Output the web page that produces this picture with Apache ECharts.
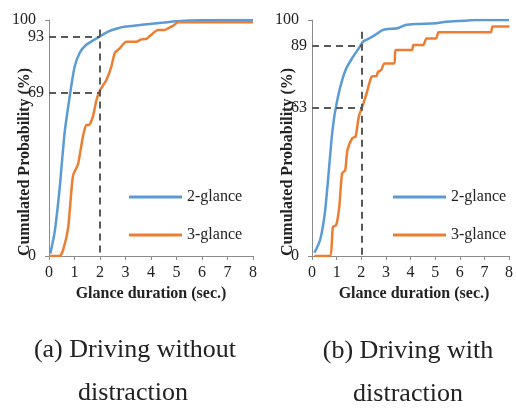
<!DOCTYPE html>
<html><head><meta charset="utf-8">
<script src="https://cdn.jsdelivr.net/npm/echarts@6/dist/echarts.min.js"></script>
<style>html,body{margin:0;padding:0;background:#fff}#c{width:516px;height:408px}</style>
</head><body><div id="c"></div>
<script>
// ---- data ----
const xTicks = [0,1,2,3,4,5,6,7,8];
const yLabelsA = [0, 69, 93, 100];
const yLabelsB = [0, 63, 89, 100];
const seriesNames = ['2-glance', '3-glance'];
// (a) driving without distraction
const a2glance = [[0.05,1],[0.22,10],[0.42,29],[0.61,52],[0.81,67.5],[1.0,80],[1.2,86],[1.46,89.5],[1.99,93],[2.3,95],[2.64,96.3],[3.0,97.2],[3.5,97.8],[3.95,98.3],[4.5,98.9],[5.0,99.5],[6,99.9],[8,100]];
const a3glance = [[0,0],[0.42,0],[0.55,2.5],[0.75,12],[0.94,34],[1.14,39],[1.33,50.6],[1.46,55.5],[1.57,55.5],[1.72,59],[1.86,66],[1.99,70],[2.25,74.6],[2.44,80],[2.58,86],[2.77,88],[3.03,90.8],[3.42,90.8],[3.62,91.8],[3.82,92],[4.08,94.4],[4.27,95.8],[4.54,95.8],[4.67,96.5],[4.86,97.5],[5.06,99],[8,99]];
// (b) driving with distraction
const b2glance = [[0.1,1.4],[0.33,6.8],[0.52,18],[0.65,32],[0.79,49],[0.92,60],[1.11,70],[1.37,79],[1.64,84],[1.9,88],[2.09,91],[2.29,92],[2.55,93.6],[2.88,95.8],[3.08,96.2],[3.47,96.5],[3.8,97.9],[4.25,98.3],[5.04,98.6],[5.43,99.3],[6.2,99.7],[6.6,100],[8,100]];
const b3glance = [[0.1,0],[0.72,0],[0.85,12.4],[0.98,13],[1.11,21],[1.22,35],[1.35,36.4],[1.44,45],[1.64,50],[1.77,50.6],[1.9,59],[2.09,64.7],[2.22,69],[2.42,76],[2.62,76.3],[2.68,78],[2.81,78.8],[2.94,81.6],[3.34,81.6],[3.4,87.3],[4.06,87.3],[4.12,89.4],[4.52,89.4],[4.65,92.2],[5.04,92.2],[5.14,94.8],[7.26,94.8],[7.33,97.2],[8.02,97.2]];
// reference markers
const refA = {x:2, hi:93, lo:69, top:96};
const refB = {x:2, hi:89, lo:63, top:95};
const captionA = ['(a) Driving without', 'distraction'];
const captionB = ['(b) Driving with', 'distraction'];
const yTitle = 'Cumulated Probability (%)';
const xTitle = 'Glance duration (sec.)';

const SERIF = '"Liberation Serif","Times New Roman",serif';
const BLUE = '#5B9BD5', ORANGE = '#ED7D31', AXIS = '#8a8a8a', DASH = '#595959';

function xAxis(i){
  return {gridIndex:i, type:'value', min:0, max:8, interval:1,
    axisLine:{lineStyle:{color:AXIS,width:1}},
    axisTick:{show:true,length:4,lineStyle:{color:AXIS}},
    axisLabel:{fontFamily:SERIF,fontSize:16,color:'#222',margin:9},
    splitLine:{show:false}};
}
function yAxis(i, labels){
  return {gridIndex:i, type:'value', min:0, max:100, interval:100,
    axisLine:{show:true,lineStyle:{color:AXIS,width:1}},
    axisTick:{show:true,length:4,lineStyle:{color:AXIS}},
    axisLabel:{fontFamily:SERIF,fontSize:16,color:'#222',margin:5,customValues:labels,
      formatter:v => (v===0||v===100) ? '{e|'+v+'}' : String(v),
      rich:{e:{fontFamily:SERIF,fontSize:16,color:'#222',padding:[0,8,0,0]}}},
    splitLine:{show:false}};
}
function refLines(r){
  return {silent:true, symbol:'none', label:{show:false},
    lineStyle:{type:[7,5],color:DASH,width:2},
    data:[
      [{coord:[0,r.hi]},{coord:[r.x,r.hi]}],
      [{coord:[0,r.lo]},{coord:[r.x,r.lo]}],
      [{coord:[r.x,r.top]},{coord:[r.x,0]}]
    ]};
}
function line(name, data, i, color, mark){
  const s = {name, type:'line', xAxisIndex:i, yAxisIndex:i, data, showSymbol:false,
    smooth:0.2, lineStyle:{color,width:2.5}, itemStyle:{color}, z:3};
  if (mark) s.markLine = mark;
  return s;
}
function legend(left){
  return {orient:'vertical', left, top:189, padding:0, itemWidth:53, itemHeight:3, itemGap:22, icon:'rect',
    data:seriesNames, textStyle:{fontFamily:SERIF,fontSize:16,color:'#222'}, selectedMode:false};
}
function txt(x,y,t,size,bold,rot){
  return {type:'text', x, y, rotation:rot||0, silent:true,
    style:{text:t, fontFamily:SERIF, fontSize:size, fontWeight:bold?'bold':'normal', fill:'#222',
      textAlign:'center', textVerticalAlign:'middle'}};
}

const chart = echarts.init(document.getElementById('c'), null, {renderer:'canvas'});
chart.setOption({
  animation:false,
  backgroundColor:'#fff',
  grid:[{left:49,top:20,width:204,height:236},{left:312,top:20,width:204,height:236}],
  xAxis:[xAxis(0), xAxis(1)],
  yAxis:[yAxis(0, yLabelsA), yAxis(1, yLabelsB)],
  legend:[legend(129), legend(393)],
  series:[
    line(seriesNames[0], a2glance, 0, BLUE, refLines(refA)),
    line(seriesNames[1], a3glance, 0, ORANGE),
    line(seriesNames[0], b2glance, 1, BLUE, refLines(refB)),
    line(seriesNames[1], b3glance, 1, ORANGE)
  ],
  graphic:[
    txt(25,162,yTitle,16,true,Math.PI/2),
    txt(288,162,yTitle,16,true,Math.PI/2),
    txt(151,294,xTitle,16,true),
    txt(414,294,xTitle,16,true),
    txt(135,350,captionA[0],26,false),
    txt(133,393,captionA[1],26,false),
    txt(408,351,captionB[0],26,false),
    txt(408,394,captionB[1],26,false)
  ]
});
</script></body></html>
